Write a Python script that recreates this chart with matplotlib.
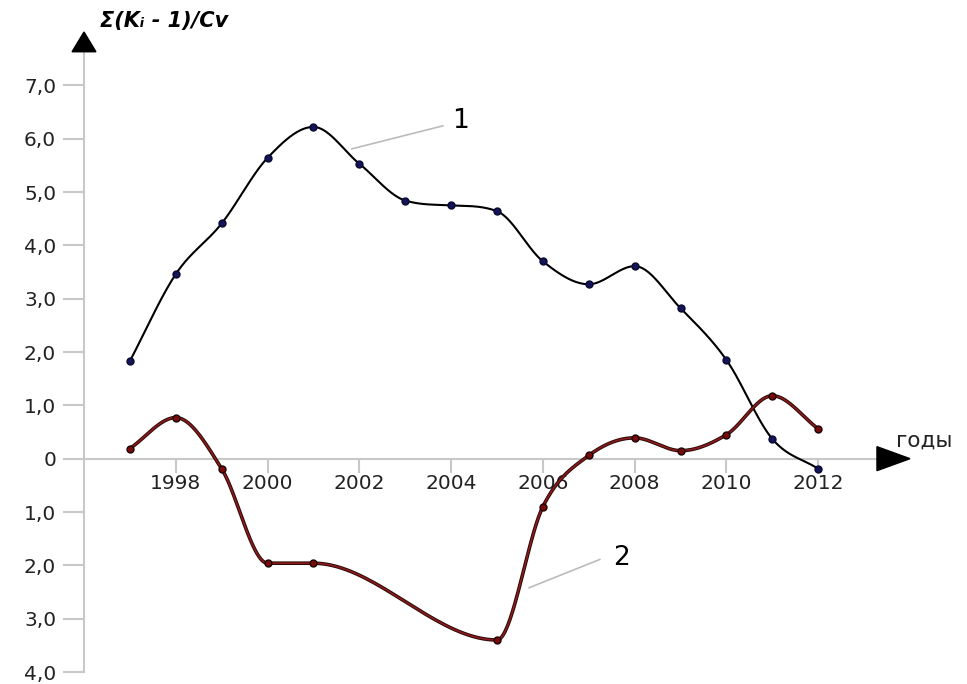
import numpy as np
import matplotlib.pyplot as plt

plt.rcParams['font.family'] = ['DejaVu Sans']

# годы и значения двух кривых
years1 = [1997, 1998, 1999, 2000, 2001, 2002, 2003, 2004, 2005, 2006, 2007, 2008, 2009, 2010, 2011, 2012]
vals1 = [1.83, 3.46, 4.41, 5.64, 6.22, 5.53, 4.84, 4.75, 4.64, 3.70, 3.27, 3.61, 2.82, 1.85, 0.37, -0.19]

years2 = [1997, 1998, 1999, 2000, 2001, 2005, 2006, 2007, 2008, 2009, 2010, 2011, 2012]
vals2 = [0.19, 0.77, -0.19, -1.96, -1.96, -3.40, -0.90, 0.06, 0.39, 0.15, 0.45, 1.18, 0.56]

ytick_vals = [7, 6, 5, 4, 3, 2, 1, 0, -1, -2, -3, -4]
ytick_labels = ['7,0', '6,0', '5,0', '4,0', '3,0', '2,0', '1,0', '0', '1,0', '2,0', '3,0', '4,0']
xtick_vals = [1998, 2000, 2002, 2004, 2006, 2008, 2010, 2012]


def smooth(x, y, n=40):
    # кубическая эрмитова интерполяция, в экстремумах касательная горизонтальна
    x = np.asarray(x, float)
    y = np.asarray(y, float)
    d = np.diff(y) / np.diff(x)
    m = np.zeros_like(y)
    m[0], m[-1] = d[0], d[-1]
    for i in range(1, len(y) - 1):
        if d[i - 1] * d[i] > 0:
            m[i] = (y[i + 1] - y[i - 1]) / (x[i + 1] - x[i - 1])
    for i in range(len(d)):
        if d[i] == 0:
            m[i] = m[i + 1] = 0
            continue
        a, b = m[i] / d[i], m[i + 1] / d[i]
        s = a * a + b * b
        if s > 9:
            k = 3 / np.sqrt(s)
            m[i], m[i + 1] = k * a * d[i], k * b * d[i]
    xs, ys = [], []
    t = np.linspace(0, 1, n)
    for i in range(len(d)):
        h = x[i + 1] - x[i]
        h00 = 2 * t ** 3 - 3 * t ** 2 + 1
        h10 = t ** 3 - 2 * t ** 2 + t
        h01 = -2 * t ** 3 + 3 * t ** 2
        h11 = t ** 3 - t ** 2
        xs.append(x[i] + t * h)
        ys.append(h00 * y[i] + h10 * h * m[i] + h01 * y[i + 1] + h11 * h * m[i + 1])
    return np.concatenate(xs), np.concatenate(ys)


fig = plt.figure(figsize=(9.67, 6.84), dpi=100)
ax = fig.add_axes([84 / 967, 12 / 684, 826 / 967, 640 / 684])
ax.set_xlim(1996, 2014)
ax.set_ylim(-4, 8)

axis_col = '#c8c8c8'
for s in ['top', 'right']:
    ax.spines[s].set_visible(False)
ax.spines['bottom'].set_position(('data', 0))
ax.spines['left'].set_bounds(-4, 7.63)
ax.spines['bottom'].set_bounds(1996, 2013.3)
for s in ['left', 'bottom']:
    ax.spines[s].set_color(axis_col)
    ax.spines[s].set_linewidth(1.5)

ax.set_yticks(ytick_vals)
ax.set_yticklabels(ytick_labels)
ax.set_xticks(xtick_vals)
ax.set_xticklabels([str(v) for v in xtick_vals])
ax.tick_params(axis='y', length=15, width=1.5, color=axis_col, labelsize=14.5, pad=5, labelcolor='#222222')
ax.tick_params(axis='x', length=10, width=1.5, color=axis_col, labelsize=14.5, pad=1, labelcolor='#222222')

# стрелки осей
ax.fill([1995.74, 1996.26, 1996], [7.63, 7.63, 8.0], color='black', clip_on=False, zorder=5)
ax.fill([2013.28, 2013.28, 2014.0], [0.225, -0.225, 0], color='black', clip_on=False, zorder=5)

# кривая 1
sx, sy = smooth(years1, vals1)
ax.plot(sx, sy, color='black', lw=1.5, zorder=3)
ax.plot(years1, vals1, 'o', ms=5, color='#14145a', mec='#0a0a30', zorder=4)

# кривая 2
sx, sy = smooth(years2, vals2)
ax.plot(sx, sy, color='#2a0a0a', lw=2.6, zorder=3)
ax.plot(sx, sy, color='#8b1a1a', lw=1.2, zorder=3)
ax.plot(years2, vals2, 'o', ms=5, color='#7a0a0a', mec='#1a0505', zorder=4)

# выноски
ax.plot([2001.84, 2003.82], [5.81, 6.24], color='#bbbbbb', lw=1.2)
ax.text(2004.21, 6.34, '1', fontsize=19, ha='center', va='center')
ax.plot([2005.70, 2007.24], [-2.42, -1.89], color='#bbbbbb', lw=1.2)
ax.text(2007.72, -1.86, '2', fontsize=19, ha='center', va='center')

fig.text(100 / 967, 1 - 21 / 684, 'Σ(Kᵢ - 1)/Cv', fontsize=15, fontweight='bold',
         fontstyle='italic', ha='left', va='center')
fig.text(896 / 967, 1 - 441 / 684, 'годы', fontsize=15.5, ha='left', va='center', color='#222222')

fig.savefig('out.png', dpi=100)
